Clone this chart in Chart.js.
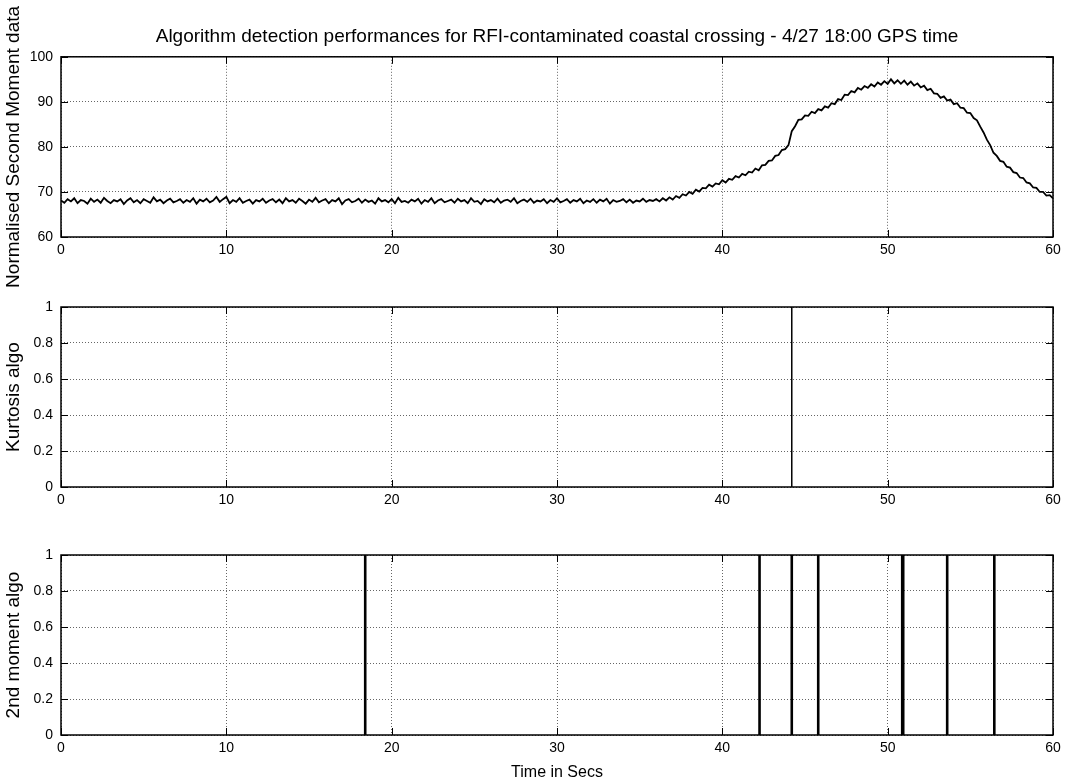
<!DOCTYPE html>
<html>
<head>
<meta charset="utf-8">
<title>Algorithm detection performances</title>
<script src="https://cdn.jsdelivr.net/npm/chart.js@4/dist/chart.umd.min.js"></script>
<style>
    html, body { margin: 0; padding: 0; background: #fff; }
    #wrap { position: relative; width: 1069px; height: 784px; overflow: hidden; }
    canvas { position: absolute; left: 0; }
</style>
</head>
<body>
<div id="wrap">
    <canvas id="momentChart" width="1069" height="300" style="top:0"></canvas>
    <canvas id="kurtosisChart" width="1069" height="235" style="top:280px"></canvas>
    <canvas id="flagChart" width="1069" height="256" style="top:528px"></canvas>
</div>
<script>
// Normalised second moment, one sample every 0.2 s from 0 to 60 s
const sampleStep = 0.2;
const secondMoment = [
    68.1, 67.6, 68.4, 67.9, 68.6, 67.5, 68.2, 68.0, 67.4, 68.5,
    67.8, 68.3, 67.6, 68.7, 68.0, 67.5, 68.2, 67.9, 68.4, 67.3,
    68.1, 68.6, 67.7, 68.2, 67.5, 68.4, 68.0, 67.6, 68.8, 67.9,
    68.3, 67.5, 68.1, 68.5, 67.7, 68.0, 68.4, 67.6, 68.2, 67.8,
    68.6, 67.4, 68.3, 67.9, 68.5, 67.7, 68.1, 68.9, 67.8, 68.4,
    68.9, 67.5, 68.2, 67.8, 68.6, 67.6, 68.0, 68.3, 67.4, 68.2,
    67.9, 68.5, 67.6, 68.1, 68.4, 67.7, 68.3, 67.5, 68.6, 67.9,
    68.2, 67.6, 68.5, 68.0, 67.4, 68.3, 67.8, 68.7, 67.7, 68.1,
    68.4, 67.5, 68.2, 67.9, 68.6, 67.3, 68.1, 68.4, 67.7, 68.0,
    68.5, 67.6, 68.3, 67.8, 68.1, 67.4, 68.6, 67.9, 68.2, 67.7,
    68.4, 67.5, 68.7, 67.8, 68.0, 67.6, 68.3, 67.9, 68.5, 67.4,
    68.2, 67.8, 68.6, 67.5, 68.1, 68.4, 67.7, 68.0, 68.3, 67.6,
    68.5, 67.9, 68.2, 67.5, 68.6, 67.8, 68.0, 67.3, 68.4, 67.9,
    68.2, 67.7, 68.5, 67.6, 68.1, 68.3, 67.8, 68.6, 67.5, 68.0,
    68.3, 67.8, 68.5, 67.6, 68.1, 67.9, 68.4, 67.5, 68.2, 67.8,
    68.6, 67.7, 68.0, 68.4, 67.6, 68.2, 67.9, 68.5, 67.5, 68.1,
    67.8, 68.4, 67.6, 68.3, 67.9, 68.5, 67.4, 68.2, 67.8, 68.0,
    68.4, 67.7, 68.3, 67.6, 68.1, 67.9, 68.5, 67.8, 68.2, 68.0, 68.4,
    67.9, 68.6, 68.1, 68.8, 68.3, 69.1, 68.7, 69.5, 69.2, 70.0,
    69.6, 70.5, 70.1, 70.9, 70.8, 71.6, 71.2, 71.9, 71.7, 72.6,
    72.1, 72.9, 72.7, 73.5, 73.2, 74.0, 73.7, 74.5, 74.3, 75.2,
    74.8, 75.9, 76.0, 76.9, 77.0, 78.0, 78.2, 79.3, 79.5, 80.4,
    83.5, 84.6, 86.0, 86.1, 87.0, 86.9, 87.8, 87.5, 88.4, 88.1,
    89.0, 88.7, 89.7, 89.5, 90.6, 90.4, 91.6, 91.5, 92.4, 92.1,
    93.1, 92.7, 93.5, 93.1, 93.9, 93.4, 94.3, 93.8, 94.6, 94.0,
    95.0, 94.1, 94.8, 94.0, 94.7, 93.8, 94.5, 93.6, 94.1, 93.2,
    93.6, 92.6, 92.9, 91.9, 91.8, 90.9, 91.2, 90.3, 90.5, 89.5,
    89.7, 88.7, 88.6, 87.6, 87.5, 86.4, 85.9, 84.5, 83.2, 81.6,
    80.4, 78.7, 78.0, 76.9, 76.7, 75.6, 75.4, 74.4, 74.2, 73.2,
    73.1, 72.1, 71.9, 71.0, 70.9, 70.0, 70.0, 69.2, 69.3, 68.6
];

// Detection instants (s)
const kurtosisHits = [44.2];
const secondMomentHits = [18.4, 42.25, 44.2, 45.8, 50.88, 50.94, 53.6, 56.45];

const timeTicks = [0, 10, 20, 30, 40, 50, 60];
const momentTicks = [60, 70, 80, 90, 100];
const flagTicks = [0, 0.2, 0.4, 0.6, 0.8, 1];

const plainFont = "'Liberation Sans', Arial, Helvetica, sans-serif";

const toPoints = values => values.map((v, i) => ({ x: +(i * sampleStep).toFixed(2), y: v }));

const toSpikes = times => {
    const pts = [];
    times.forEach(t => {
        pts.push({ x: t, y: 0 }, { x: t, y: 1 }, { x: t, y: null });
    });
    return pts;
};

// Solid box round the axes plus MATLAB-style inward tick marks
const framePlugin = {
    id: 'frame',
    afterDatasetsDraw(chart) {
        const { ctx, chartArea: a, scales: { x, y } } = chart;
        ctx.save();
        ctx.setLineDash([]);
        ctx.strokeStyle = '#000';
        ctx.lineWidth = 1;
        ctx.beginPath();
        x.ticks.forEach(t => {
            const px = Math.round(x.getPixelForValue(t.value)) + 0.5;
            ctx.moveTo(px, a.bottom); ctx.lineTo(px, a.bottom - 7);
            ctx.moveTo(px, a.top); ctx.lineTo(px, a.top + 7);
        });
        y.ticks.forEach(t => {
            const py = Math.round(y.getPixelForValue(t.value)) + 0.5;
            ctx.moveTo(a.left, py); ctx.lineTo(a.left + 7, py);
            ctx.moveTo(a.right, py); ctx.lineTo(a.right - 7, py);
        });
        ctx.stroke();
        ctx.lineWidth = 1.5;
        ctx.strokeRect(a.left, a.top, a.width, a.height);
        ctx.restore();
    }
};

const gridStyle = { color: '#666', lineWidth: 1, drawTicks: false };
const dotted = { display: false, dash: [1, 2] };

const buildOptions = ({ yMin, yMax, yTicks, yTitle, xTitle, xHeight, title, padTop }) => ({
    responsive: false,
    animation: false,
    devicePixelRatio: 1,
    layout: { padding: { top: padTop, right: 16, left: 0, bottom: 0 } },
    plugins: {
        legend: { display: false },
        tooltip: { enabled: false },
        title: title ? {
            display: true,
            fullSize: false,
            text: title,
            color: '#000',
            font: { family: plainFont, size: 19, weight: 'normal' },
            padding: { top: 25, bottom: 9 }
        } : { display: false }
    },
    scales: {
        x: {
            type: 'linear',
            min: 0,
            max: 60,
            afterBuildTicks: s => { s.ticks = timeTicks.map(v => ({ value: v })); },
            afterFit: s => { s.height = xHeight; },
            ticks: {
                color: '#000', padding: 5, maxRotation: 0,
                font: { family: plainFont, size: 14 },
                callback: v => String(v)
            },
            grid: gridStyle,
            border: dotted,
            title: xTitle ? {
                display: true,
                text: xTitle,
                color: '#000',
                font: { family: plainFont, size: 16 },
                padding: { top: 0, bottom: 2 }
            } : { display: false }
        },
        y: {
            type: 'linear',
            min: yMin,
            max: yMax,
            afterBuildTicks: s => { s.ticks = yTicks.map(v => ({ value: v })); },
            afterFit: s => { s.width = 61; },
            ticks: {
                color: '#000', padding: 8,
                font: { family: plainFont, size: 14 },
                callback: v => String(v)
            },
            grid: gridStyle,
            border: dotted,
            title: {
                display: true,
                text: yTitle,
                color: '#000',
                font: { family: plainFont, size: 19 },
                padding: { top: 2, bottom: 0 }
            }
        }
    }
});

new Chart(document.getElementById('momentChart'), {
    type: 'line',
    data: {
        datasets: [{
            data: toPoints(secondMoment),
            borderColor: '#000',
            borderWidth: 1.8,
            pointRadius: 0,
            tension: 0
        }]
    },
    options: buildOptions({
        yMin: 60, yMax: 100, yTicks: momentTicks,
        yTitle: 'Normalised Second Moment data',
        xHeight: 63,
        title: 'Algorithm detection performances for RFI-contaminated coastal crossing - 4/27 18:00 GPS time',
        padTop: 0
    }),
    plugins: [framePlugin]
});

new Chart(document.getElementById('kurtosisChart'), {
    type: 'line',
    data: {
        datasets: [{
            data: toSpikes(kurtosisHits),
            borderColor: '#000',
            borderWidth: 1.5,
            pointRadius: 0,
            spanGaps: false
        }]
    },
    options: buildOptions({
        yMin: 0, yMax: 1, yTicks: flagTicks,
        yTitle: 'Kurtosis algo',
        xHeight: 28,
        padTop: 27
    }),
    plugins: [framePlugin]
});

new Chart(document.getElementById('flagChart'), {
    type: 'line',
    data: {
        datasets: [{
            data: toSpikes(secondMomentHits),
            borderColor: '#000',
            borderWidth: 2.6,
            pointRadius: 0,
            spanGaps: false
        }]
    },
    options: buildOptions({
        yMin: 0, yMax: 1, yTicks: flagTicks,
        yTitle: '2nd moment algo',
        xTitle: 'Time in Secs',
        xHeight: 49,
        padTop: 27
    }),
    plugins: [framePlugin]
});
</script>
</body>
</html>
